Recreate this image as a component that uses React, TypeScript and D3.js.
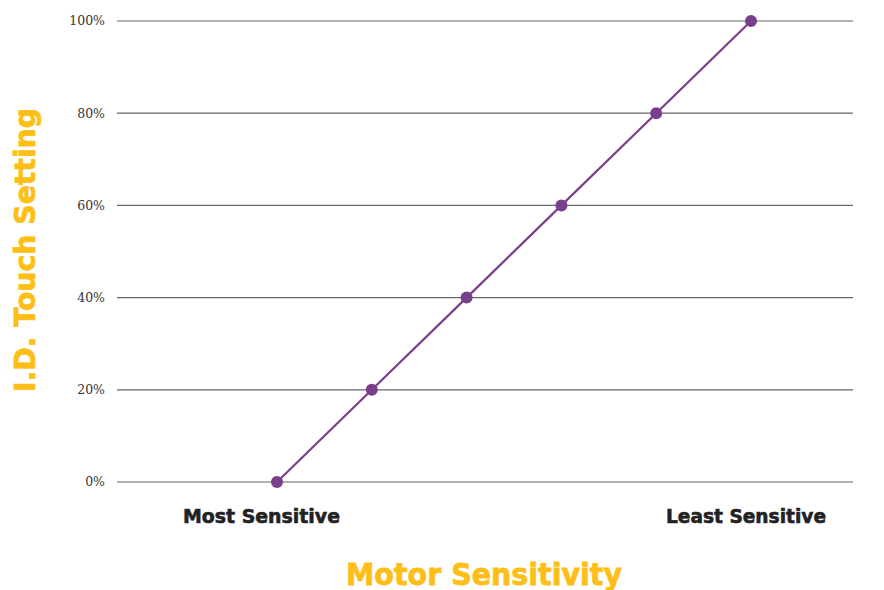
import React from "react";
import * as d3 from "d3";

const steps = [0, 1, 2, 3, 4, 5];
const touchSetting = [0, 20, 40, 60, 80, 100];
const yTicks = [0, 20, 40, 60, 80, 100];
const xEndLabels = ["Most Sensitive", "Least Sensitive"];

const width = 884;
const height = 590;

export default function App() {
  const gridLeft = 117;
  const gridRight = 853;

  const x = d3.scaleLinear().domain([0, 5]).range([277, 751]);
  const y = d3.scaleLinear().domain([0, 100]).range([482, 21]);

  const line = d3
    .line<number>()
    .x((_, i) => x(steps[i]))
    .y((d) => y(d));

  const boldFont = "'DejaVu Sans', sans-serif";

  return (
    <svg
      width={width}
      height={height}
      style={{ position: "absolute", left: 0, top: 0, background: "#fff" }}
    >
      {/* gridlines + tick labels */}
      {yTicks.map((t) => (
        <g key={t}>
          <line
            x1={gridLeft}
            x2={gridRight}
            y1={y(t)}
            y2={y(t)}
            stroke="#666"
            strokeWidth={1.2}
          />
          <text
            x={105}
            y={y(t)}
            dy="0.35em"
            textAnchor="end"
            fontFamily="'DejaVu Serif', serif"
            fontSize={12.5}
            fill="#333"
          >
            {t}%
          </text>
        </g>
      ))}

      {/* series */}
      <path
        d={line(touchSetting) ?? ""}
        fill="none"
        stroke="#7a3f8a"
        strokeWidth={2.2}
      />
      {touchSetting.map((d, i) => (
        <circle key={i} cx={x(steps[i])} cy={y(d)} r={6} fill="#7a3f8a" />
      ))}

      {/* end labels */}
      <text
        x={183}
        y={516}
        dy="0.35em"
        fontFamily={boldFont}
        fontWeight="bold"
        fontSize={19}
        textLength={157}
        lengthAdjust="spacingAndGlyphs"
        fill="#222"
        stroke="#222"
        strokeWidth={0.6}
      >
        {xEndLabels[0]}
      </text>
      <text
        x={666}
        y={516}
        dy="0.35em"
        fontFamily={boldFont}
        fontWeight="bold"
        fontSize={19}
        textLength={160}
        lengthAdjust="spacingAndGlyphs"
        fill="#222"
        stroke="#222"
        strokeWidth={0.6}
      >
        {xEndLabels[1]}
      </text>

      {/* axis titles */}
      <text
        x={346}
        y={574}
        dy="0.35em"
        fontFamily={boldFont}
        fontWeight="bold"
        fontSize={30}
        textLength={276}
        lengthAdjust="spacingAndGlyphs"
        fill="#fdbf17"
        stroke="#fdbf17"
        strokeWidth={0.8}
      >
        Motor Sensitivity
      </text>
      <text
        transform={`translate(25,392) rotate(-90)`}
        dy="0.35em"
        fontFamily={boldFont}
        fontWeight="bold"
        fontSize={29}
        textLength={284}
        lengthAdjust="spacingAndGlyphs"
        fill="#fdbf17"
        stroke="#fdbf17"
        strokeWidth={0.8}
      >
        I.D. Touch Setting
      </text>
    </svg>
  );
}
